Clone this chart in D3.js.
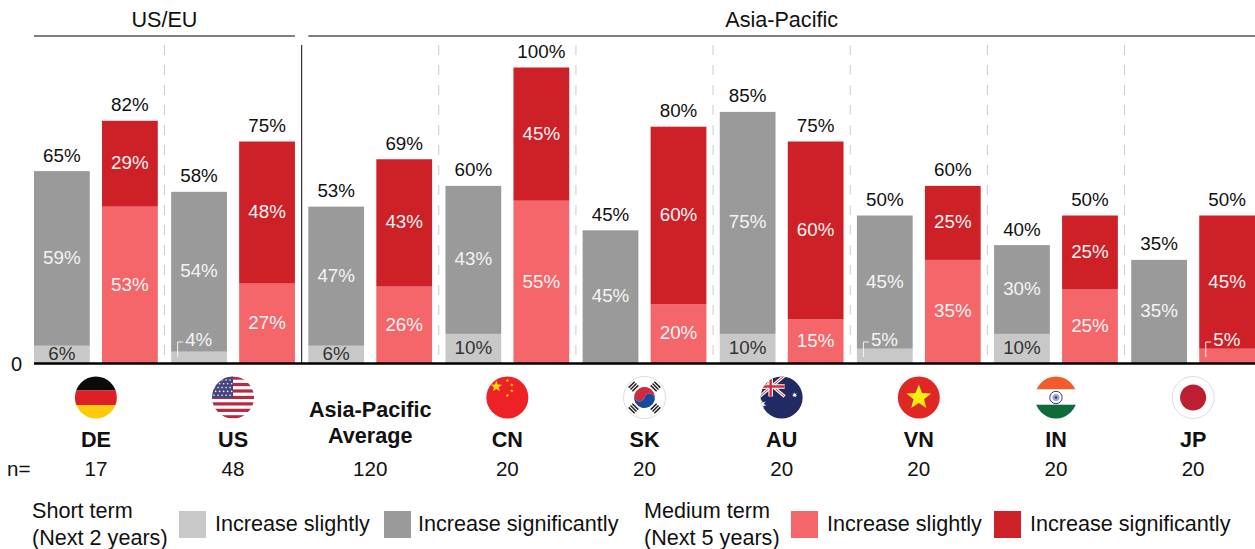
<!DOCTYPE html>
<html>
<head>
<meta charset="utf-8">
<title>Increase by market</title>
<script src="https://d3js.org/d3.v7.min.js"></script>
<style>
html,body{margin:0;padding:0;background:#fff;overflow:hidden}
text{font-family:"Liberation Sans",Arial,sans-serif;fill:#111}
</style>
</head>
<body>
<script>
// data
var categories = ["DE","US","APAC","CN","SK","AU","VN","IN","JP"];
var sampleSizes = [17,48,120,20,20,20,20,20,20];
var shortSlight = [6,4,6,10,0,10,5,10,0];
var shortSignificant = [59,54,47,50,45,75,45,30,35];
var mediumSlight = [53,27,26,55,20,15,35,25,5];
var mediumSignificant = [29,48,43,45,60,60,25,25,45];
// printed labels, the CN bar is drawn taller than its printed 43%
var shortSignificantLabels = [59,54,47,43,45,75,45,30,35];
var shortTotals = [65,58,53,60,45,85,50,40,35];
var mediumTotals = [82,75,69,100,80,75,60,50,50];

var colors = {lightGrey:"#c8c8c8", grey:"#9a9a9a", salmon:"#f4666a", red:"#cd2027"};

var width = 1255, height = 549;
var svg = d3.select("body").append("svg").attr("width",width).attr("height",height);

var x = d3.scaleBand().domain(categories).range([34,1255]).paddingInner(0.0975);
var xTerm = d3.scaleBand().domain(["short","medium"]).range([0,x.bandwidth()]).paddingInner(0.18);
var y = d3.scaleLinear().domain([0,100]).range([363.5,67.5]);

// separators between the groups
categories.slice(1).forEach(function(c){
  var sx = x(c) - (x.step()-x.bandwidth())/2;
  svg.append("line").attr("x1",sx).attr("x2",sx).attr("y1",45).attr("y2",363)
    .attr("stroke", c=="APAC" ? "#333" : "#ccc")
    .attr("stroke-width", c=="APAC" ? 1.2 : 1)
    .attr("stroke-dasharray", c=="APAC" ? null : "10,10");
});

// region headers
[["US/EU","DE","US"],["Asia-Pacific","APAC","JP"]].forEach(function(r){
  var x0 = x(r[1]), x1 = x(r[2]) + x.bandwidth();
  svg.append("line").attr("x1",x0).attr("x2",x1).attr("y1",36).attr("y2",36)
    .attr("stroke","#555").attr("stroke-width",1.3);
  svg.append("text").attr("x",(x0+x1)/2).attr("y",27).attr("text-anchor","middle")
    .attr("font-size",21.6).text(r[0]);
});

// build the stacked rows
var rows = [];
categories.forEach(function(c,i){
  rows.push({cat:c,term:"short",lower:shortSlight[i],upper:shortSignificant[i],
    lowerColor:colors.lightGrey,upperColor:colors.grey,upperLabel:shortSignificantLabels[i],total:shortTotals[i]});
  rows.push({cat:c,term:"medium",lower:mediumSlight[i],upper:mediumSignificant[i],
    lowerColor:colors.salmon,upperColor:colors.red,upperLabel:mediumSignificant[i],total:mediumTotals[i]});
});

var bars = svg.append("g").selectAll("g").data(rows).enter().append("g")
  .attr("transform",function(d){return "translate("+(x(d.cat)+xTerm(d.term))+",0)";});
var bw = xTerm.bandwidth();

bars.append("rect").attr("width",bw)
  .attr("y",function(d){return y(d.lower);})
  .attr("height",function(d){return y(0)-y(d.lower);})
  .attr("fill",function(d){return d.lowerColor;});
bars.append("rect").attr("width",bw)
  .attr("y",function(d){return y(d.lower+d.upper);})
  .attr("height",function(d){return y(d.lower)-y(d.lower+d.upper);})
  .attr("fill",function(d){return d.upperColor;});

// total above the bar
bars.append("text").attr("x",bw/2).attr("text-anchor","middle").attr("font-size",18.8)
  .attr("y",function(d){return y(d.lower+d.upper)-9.5;})
  .text(function(d){return d.total+"%";});

// upper segment label
bars.append("text").attr("x",bw/2).attr("text-anchor","middle").attr("font-size",18.8)
  .attr("dy","0.35em").style("fill","#f4f4f4")
  .attr("y",function(d){return y(d.lower+d.upper/2)-1;})
  .text(function(d){return d.upperLabel+"%";});

// lower segment label, small ones sit above the bar part with a leader
var lower = bars.filter(function(d){return d.lower>0;});
lower.append("text").attr("font-size",18.8).attr("dy","0.35em")
  .attr("x",function(d){return d.lower<=5 ? 14 : bw/2;})
  .attr("text-anchor",function(d){return d.lower<=5 ? "start" : "middle";})
  .attr("y",function(d){return d.lower<=5 ? 339.5 : y(d.lower/2)-1;})
  .style("fill",function(d){return d.lower<=5 || d.term=="medium" ? "#f4f4f4" : "#333";})
  .text(function(d){return d.lower+"%";});
lower.filter(function(d){return d.lower<=5;}).append("path")
  .attr("d","M6.5,357V342H12").attr("fill","none").attr("stroke","#f4f4f4").attr("stroke-width",1);

// y axis, only the zero tick
var yAxis = svg.append("g").attr("transform","translate(24,0)")
  .call(d3.axisLeft(y).tickValues([0]).tickSize(0).tickFormat(d3.format("d")));
yAxis.select(".domain").remove();
yAxis.selectAll("text").attr("font-size",20).attr("font-family",null).attr("x",-2).attr("dy","0.35em").style("fill","#111");
svg.append("line").attr("x1",34).attr("x2",1255).attr("y1",y(0)).attr("y2",y(0))
  .attr("stroke","#000").attr("stroke-width",2.3);

// flags
var defs = svg.append("defs");
defs.append("clipPath").attr("id","flagClip").append("circle").attr("r",21);

function band(g,y0,h,fill){ g.append("rect").attr("x",-22).attr("width",44).attr("y",y0).attr("height",h).attr("fill",fill); }
function star(g,cx,cy,r,fill,points){
  points = points||5;
  var pts = d3.range(points*2).map(function(i){
    var a = -Math.PI/2 + i*Math.PI/points, rr = i%2 ? r*0.42 : r;
    return [cx+rr*Math.cos(a),cy+rr*Math.sin(a)].join(",");
  });
  g.append("polygon").attr("points",pts.join(" ")).attr("fill",fill);
}
var flags = {
  DE:function(g){ band(g,-22,15,"#0b0b0b"); band(g,-7,14.5,"#dd1f26"); band(g,7.5,15,"#fdcb09"); },
  US:function(g){
    band(g,-22,44,"#fff");
    d3.range(7).forEach(function(i){ band(g,-21+i*6.45,3.2,"#b8293f"); });
    g.append("rect").attr("x",-22).attr("y",-22).attr("width",22).attr("height",22.5).attr("fill","#46467f");
    d3.range(5).forEach(function(r){ d3.range(5).forEach(function(c){
      g.append("circle").attr("cx",-19+c*4+(r%2)*1.6).attr("cy",-17.5+r*3.8).attr("r",0.8).attr("fill","#fff");
    });});
  },
  CN:function(g){
    band(g,-22,44,"#ee2127");
    star(g,-11,-11,6,"#fcd609");
    [[0,-17],[4.5,-12.5],[4.5,-6.5],[0,-2]].forEach(function(p){ star(g,p[0],p[1],2,"#fcd609"); });
  },
  SK:function(g){
    band(g,-22,44,"#fff");
    g.append("path").attr("d","M-10.5,0A10.5,10.5 0 0 1 10.5,0A5.25,5.25 0 0 0 0,0A5.25,5.25 0 0 1 -10.5,0Z").attr("fill","#cf2a3e").attr("transform","rotate(15)");
    g.append("path").attr("d","M-10.5,0A10.5,10.5 0 0 0 10.5,0A5.25,5.25 0 0 0 0,0A5.25,5.25 0 0 1 -10.5,0Z").attr("fill","#14499b").attr("transform","rotate(15)");
    [[-45],[45],[135],[225]].forEach(function(a){
      var tg = g.append("g").attr("transform","rotate("+a[0]+") translate(0,-15.5)");
      [-2.6,0,2.6].forEach(function(d){
        tg.append("rect").attr("x",-4.2).attr("y",d-0.8).attr("width",8.4).attr("height",1.5).attr("fill","#222");
      });
    });
  },
  AU:function(g){
    band(g,-22,44,"#212a63");
    g.append("path").attr("d","M-22,-22L3,-1M-22,-1L3,-22").attr("stroke","#fff").attr("stroke-width",3);
    g.append("path").attr("d","M-22,-22L3,-1M-22,-1L3,-22").attr("stroke","#d72b3a").attr("stroke-width",1);
    g.append("path").attr("d","M-11,-22V-1M-22,-11H3").attr("stroke","#fff").attr("stroke-width",4.5);
    g.append("path").attr("d","M-11,-22V-1M-22,-11H3").attr("stroke","#d72b3a").attr("stroke-width",2.4);
    star(g,-20,7,5,"#fff",7);
    star(g,13,-2.5,2.8,"#fff",7);
  },
  VN:function(g){ band(g,-22,44,"#df2826"); star(g,0,0,13,"#f8ee14"); },
  IN:function(g){
    band(g,-22,44,"#fff");
    band(g,-22,14,"#f15d2a"); band(g,7.5,15,"#0f6b37");
    g.append("rect").attr("x",-22).attr("y",-8.5).attr("width",44).attr("height",1).attr("fill","#ddd");
    g.append("rect").attr("x",-22).attr("y",6.5).attr("width",44).attr("height",1).attr("fill","#ccc");
    g.append("circle").attr("r",6.2).attr("fill","#fff").attr("stroke","#2b3a84").attr("stroke-width",1);
    g.append("circle").attr("r",3.5).attr("fill","#9fa5cf");
    g.append("circle").attr("r",1.3).attr("fill","#2b3a84");
    // white notches keep the flag narrower than the circle
    g.append("rect").attr("x",-22).attr("y",-22).attr("width",2).attr("height",44).attr("fill","#fff");
    g.append("rect").attr("x",20).attr("y",-22).attr("width",2).attr("height",44).attr("fill","#fff");
  },
  JP:function(g){
    band(g,-22,44,"#fff");
    g.append("circle").attr("r",13).attr("fill","#bd1e32");
  }
};
categories.forEach(function(c){
  if(!flags[c]) return;
  var cg = svg.append("g").attr("transform","translate("+(x(c)+x.bandwidth()/2)+",397.5)");
  var inner = cg.append("g").attr("clip-path","url(#flagClip)");
  flags[c](inner);
  if(c=="SK"||c=="JP") cg.append("circle").attr("r",21).attr("fill","none").attr("stroke","#d4d4d4").attr("stroke-width",0.8);
});

// category names and sample sizes
var names = svg.append("g").selectAll("g").data(categories).enter().append("g")
  .attr("transform",function(c){return "translate("+(x(c)+x.bandwidth()/2)+",0)";});
names.filter(function(c){return c!="APAC";}).append("text")
  .attr("y",447).attr("text-anchor","middle").attr("font-size",21.6).attr("font-weight","bold")
  .text(function(c){return c;});
var ap = names.filter(function(c){return c=="APAC";});
ap.append("text").attr("y",417).attr("text-anchor","middle").attr("font-size",21.6).attr("font-weight","bold").text("Asia-Pacific");
ap.append("text").attr("y",443).attr("text-anchor","middle").attr("font-size",21.6).attr("font-weight","bold").text("Average");
names.append("text").attr("y",476).attr("text-anchor","middle").attr("font-size",20.6)
  .text(function(c,i){return sampleSizes[i];});
svg.append("text").attr("x",7).attr("y",476).attr("font-size",20.6).text("n=");

// legend
var legendTitles = [
  {x:32,lines:["Short term","(Next 2 years)"]},
  {x:644,lines:["Medium term","(Next 5 years)"]}
];
legendTitles.forEach(function(t){
  t.lines.forEach(function(l,i){
    svg.append("text").attr("x",t.x).attr("y",518+i*27).attr("font-size",21.6).text(l);
  });
});
var legendItems = [
  {x:179,textX:215,color:colors.lightGrey,label:"Increase slightly"},
  {x:384,textX:418,color:colors.grey,label:"Increase significantly"},
  {x:791,textX:827,color:colors.salmon,label:"Increase slightly"},
  {x:994,textX:1030,color:colors.red,label:"Increase significantly"}
];
legendItems.forEach(function(d){
  svg.append("rect").attr("x",d.x).attr("y",511).attr("width",27).attr("height",27).attr("fill",d.color);
  svg.append("text").attr("x",d.textX).attr("y",531).attr("font-size",21.6).text(d.label);
});
</script>
</body>
</html>
